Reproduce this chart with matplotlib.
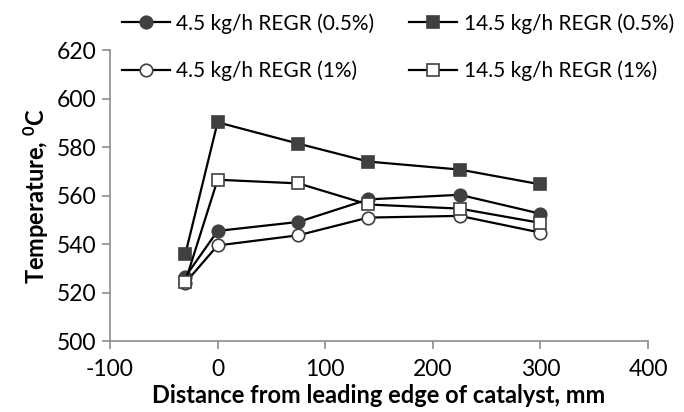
import matplotlib.pyplot as plt

plt.rcParams['font.family'] = ['Lato', 'DejaVu Sans']
plt.rcParams['axes.unicode_minus'] = False

# distance along the catalyst (mm) and measured temperatures (degC)
distance = [-30, 0, 75, 140, 225, 300]
t_45_05 = [526.5, 545.4, 549.1, 558.4, 560.3, 552.5]
t_145_05 = [535.8, 590.2, 581.4, 574.0, 570.7, 564.6]
t_45_1 = [524.0, 539.4, 543.6, 550.9, 551.6, 544.7]
t_145_1 = [524.5, 566.5, 565.0, 556.3, 554.6, 548.7]

labels = ['4.5 kg/h REGR (0.5%)', '14.5 kg/h REGR (0.5%)',
          '4.5 kg/h REGR (1%)', '14.5 kg/h REGR (1%)']

mk = '#404040'
fig = plt.figure(figsize=(6.84, 4.12), dpi=100)
ax = fig.add_axes([0.1608, 0.1723, 0.7866, 0.7063])

style = dict(color='black', lw=1.6, ms=9, markeredgecolor=mk, markeredgewidth=1.2)
h1, = ax.plot(distance, t_45_05, marker='o', markerfacecolor=mk, label=labels[0], **style)
h2, = ax.plot(distance, t_145_05, marker='s', markerfacecolor=mk, label=labels[1], **style)
h3, = ax.plot(distance, t_45_1, marker='o', markerfacecolor='white', label=labels[2], **style)
h4, = ax.plot(distance, t_145_1, marker='s', markerfacecolor='white', label=labels[3], **style)

ax.set_xlim(-100, 400)
ax.set_ylim(500, 620)
ax.set_xticks(range(-100, 401, 100))
ax.set_yticks(range(500, 621, 20))
for s in ['top', 'right']:
    ax.spines[s].set_visible(False)
for s in ['left', 'bottom']:
    ax.spines[s].set_color('#8c8c8c')
    ax.spines[s].set_linewidth(1.2)
ax.tick_params(length=6, width=1.2, color='#8c8c8c', labelsize=16.5, pad=4)
ax.tick_params(axis='x', pad=7)

ax.set_xlabel('Distance from leading edge of catalyst, mm', fontsize=17,
              fontweight='bold', labelpad=3)
ax.set_ylabel('Temperature, $\\mathregular{^0C}$', fontsize=17, fontweight='bold',
              labelpad=4)

# column-major fill: first column holds the 4.5 kg/h series
fig.legend(handles=[h1, h3, h2, h4], ncol=2, frameon=False, fontsize=15,
           loc='upper left', bbox_to_anchor=(0.178, 0.968),
           handlelength=2.3, handletextpad=0.3, columnspacing=1.7,
           labelspacing=1.3, borderaxespad=0, borderpad=0)

fig.savefig('out.png', dpi=100)
